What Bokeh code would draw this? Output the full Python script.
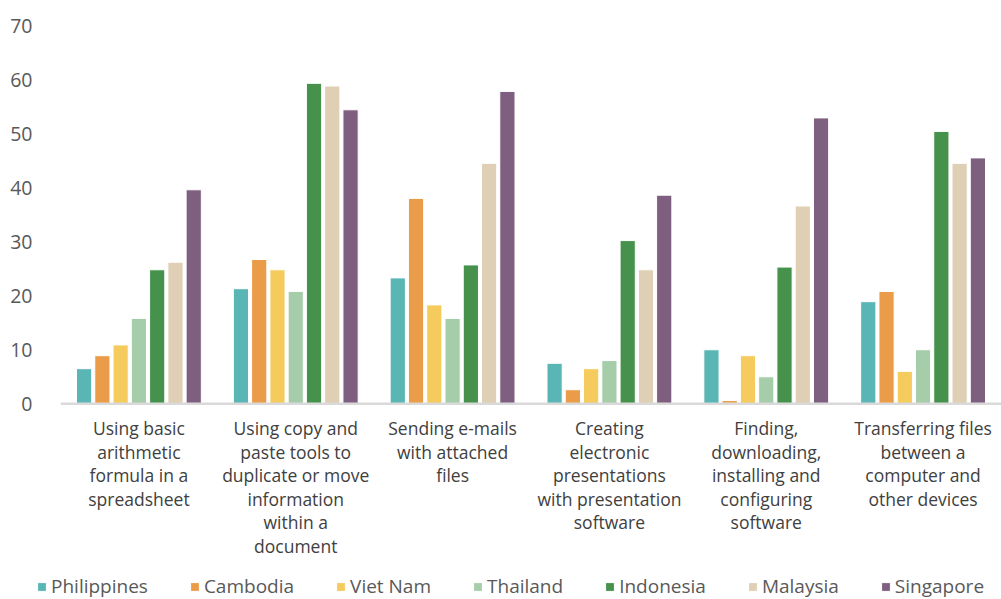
from bokeh.plotting import figure
from bokeh.layouts import column
from bokeh.models import (ColumnDataSource, FactorRange, Range1d, FixedTicker,
                          Legend, LegendItem, Span)
from bokeh.core.properties import value
from bokeh.transform import dodge
from bokeh.embed import file_html
from bokeh.resources import INLINE

categories = [
    "Using basic\narithmetic\nformula in a\nspreadsheet",
    "Using copy and\npaste tools to\nduplicate or move\ninformation\nwithin a\ndocument",
    "Sending e-mails\nwith attached\nfiles",
    "Creating\nelectronic\npresentations\nwith presentation\nsoftware",
    "Finding,\ndownloading,\ninstalling and\nconfiguring\nsoftware",
    "Transferring files\nbetween a\ncomputer and\nother devices",
]
countries = ["Philippines", "Cambodia", "Viet Nam", "Thailand", "Indonesia", "Malaysia", "Singapore"]

philippines = [6.5, 21.3, 23.3, 7.5, 10.0, 18.9]
cambodia    = [8.9, 26.7, 38.0, 2.6, 0.6, 20.8]
viet_nam    = [10.9, 24.8, 18.3, 6.5, 8.9, 6.0]
thailand    = [15.8, 20.8, 15.8, 8.0, 5.0, 10.0]
indonesia   = [24.8, 59.3, 25.7, 30.2, 25.3, 50.4]
malaysia    = [26.2, 58.8, 44.5, 24.8, 36.6, 44.5]
singapore   = [39.6, 54.4, 57.8, 38.6, 52.9, 45.5]

y_ticks = [0, 10, 20, 30, 40, 50, 60, 70]

colors = ["#5AB5B5", "#EB9C48", "#F5CB5D", "#A6CDAA", "#46924C", "#DFD0B5", "#7F5F7F"]
series = [philippines, cambodia, viet_nam, thailand, indonesia, malaysia, singapore]

source = ColumnDataSource(data=dict(cat=categories, **{f"s{i}": v for i, v in enumerate(series)}))

FONT = "Open Sans"
MAIN_H = 569
LEG_H = 599 - MAIN_H
FRAME_TOP = 25
PX_PER_UNIT = (403.3 - FRAME_TOP) / 70.0
Y_MIN = 70 - (MAIN_H - FRAME_TOP) / PX_PER_UNIT

p = figure(width=1001, height=MAIN_H, x_range=FactorRange(*categories, range_padding=0),
           y_range=Range1d(Y_MIN, 70), output_backend="svg", toolbar_location=None,
           min_border_left=60, min_border_right=0, min_border_top=FRAME_TOP,
           min_border_bottom=0)
p.outline_line_color = None
p.xgrid.grid_line_color = None
p.ygrid.grid_line_color = None
p.xaxis.visible = False

step = 0.1165
for i, col in enumerate(colors):
    p.vbar(x=dodge("cat", (i - 3) * step, range=p.x_range), top=f"s{i}", bottom=0,
           width=0.097, source=source, fill_color=col, line_color="white", line_width=1)

p.add_layout(Span(location=0, dimension="width", line_color="#D9D9D9", line_width=2.5))

# category labels under the baseline
p.text(x="cat", y=-2.3, text="cat", source=source, text_align="center",
       text_baseline="top", text_font=value(FONT), text_font_size="17.5px",
       text_color="#404040", text_line_height=0.98)

p.yaxis.ticker = FixedTicker(ticks=y_ticks)
p.yaxis.axis_line_color = None
p.yaxis.major_tick_line_color = None
p.yaxis.minor_tick_line_color = None
p.yaxis.major_label_text_font = FONT
p.yaxis.major_label_text_font_size = "19.5px"
p.yaxis.major_label_text_color = "#595959"
p.yaxis.major_label_standoff = 22

# legend strip (its swatch renderers sit outside the visible range)
lg = figure(width=1001, height=LEG_H, x_range=Range1d(0, 1), y_range=Range1d(0, 1),
            x_axis_type=None, y_axis_type=None,
            output_backend="svg", toolbar_location=None,
            min_border_left=0, min_border_right=0, min_border_top=0, min_border_bottom=0)
lg.outline_line_color = None
lg.grid.visible = False
p.frame_align = False
lg.frame_align = False
items = []
for name, col in zip(countries, colors):
    r = lg.vbar(x=[5], top=[1], width=0.1, fill_color=col, line_color="white", line_width=1)
    items.append(LegendItem(label=name, renderers=[r]))
legend = Legend(items=items, orientation="horizontal", location=(36, 0),
                glyph_width=11, glyph_height=11, label_standoff=4, spacing=41,
                padding=0, margin=0,
                label_text_font=FONT, label_text_font_size="19px",
                label_text_color="#595959", border_line_color=None,
                background_fill_alpha=0)
lg.add_layout(legend, "center")

layout = column(p, lg, spacing=0)
open("out.html", "w").write(file_html(layout, INLINE))
